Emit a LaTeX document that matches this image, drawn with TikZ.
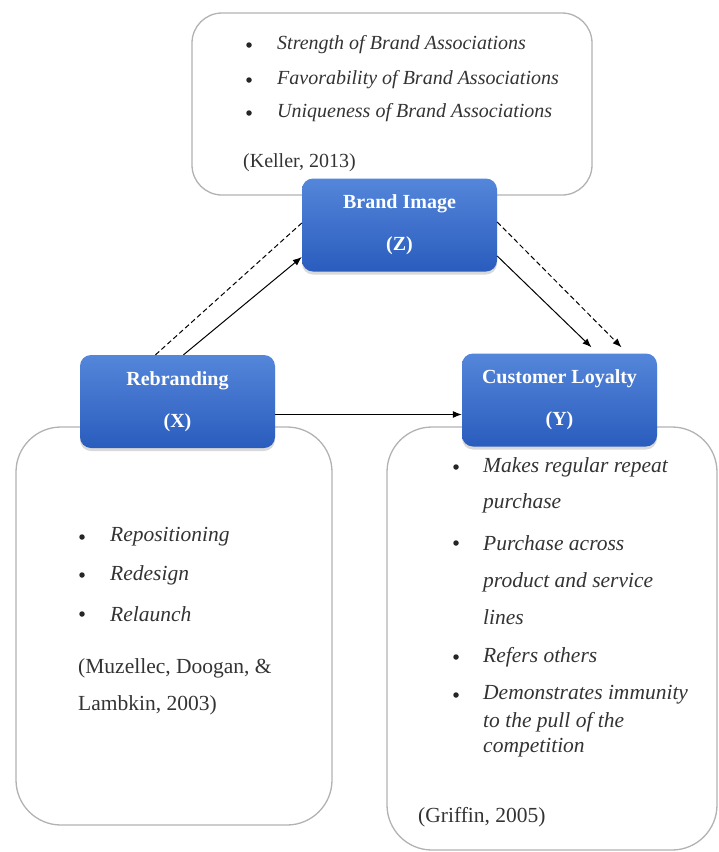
\documentclass[tikz,border=0pt]{standalone}
\usepackage{fontspec}
\setmainfont{Liberation Serif}
\usepackage{xcolor}
\usetikzlibrary{arrows.meta,shadows}
\definecolor{boxtop}{RGB}{84,134,218}
\definecolor{boxbot}{RGB}{42,92,190}

\begin{document}
\begin{tikzpicture}[x=1pt,y=-1pt,
  frame/.style={draw=gray!60,line width=1.3pt},
  varbox/.style={rounded corners=11pt,minimum width=195pt,minimum height=93pt,
    top color=boxtop,bottom color=boxbot,text=white,align=center,
    font=\fontsize{20}{42}\selectfont\bfseries,
    drop shadow={opacity=0.3,shadow xshift=0pt,shadow yshift=-3pt}},
  dot/.style={circle,fill=black!85,inner sep=0pt,minimum size=5.5pt},
  item/.style={anchor=west,inner sep=0pt,font=\fontsize{#1}{24}\selectfont\itshape,text=black!80},
  item/.default=20,
  cite/.style={anchor=west,inner sep=0pt,font=\fontsize{#1}{24}\selectfont,text=black!80},
  cite/.default=20,
  link/.style={line width=1pt,-{Latex[length=9pt,width=7pt]}},
  ]
  \useasboundingbox (0,0) rectangle (719,852);
  % frames behind the three variables
  \draw[frame,rounded corners=30pt] (192,13) rectangle (592,195);
  \draw[frame,rounded corners=45pt] (16,427) rectangle (332,825);
  \draw[frame,rounded corners=45pt] (387,427) rectangle (717,850);

  % brand image dimensions
  \node[dot] (k1) at (249,45) {};
  \node[item] (kt1) at (277,45) {Strength of Brand Associations};
  \node[dot] (k2) at (249,80) {};
  \node[item] (kt2) at (277,80) {Favorability of Brand Associations};
  \node[dot] (k3) at (249,113) {};
  \node[item] (kt3) at (277,113) {Uniqueness of Brand Associations};
  \node[cite] (keller) at (243,163) {(Keller, 2013)};

  % rebranding dimensions
  \node[dot] (m1) at (82,537) {};
  \node[item=21.5] (mt1) at (110,537) {Repositioning};
  \node[dot] (m2) at (82,575) {};
  \node[item=21.5] (mt2) at (110,575) {Redesign};
  \node[dot] (m3) at (82,614) {};
  \node[item=21.5] (mt3) at (110,614) {Relaunch};
  \node[cite=21.5] (muz1) at (78,668) {(Muzellec, Doogan, \&};
  \node[cite=21.5] (muz2) at (78,705) {Lambkin, 2003)};

  % loyalty dimensions
  \node[dot] (g1) at (456,467) {};
  \node[item=21.5] (gt1) at (483,467) {Makes regular repeat};
  \node[item=21.5] (gt1b) at (483,503) {purchase};
  \node[dot] (g2) at (456,543) {};
  \node[item=21.5] (gt2) at (483,543) {Purchase across};
  \node[item=21.5] (gt2b) at (483,582) {product and service};
  \node[item=21.5] (gt2c) at (483,617) {lines};
  \node[dot] (g3) at (456,657) {};
  \node[item=21.5] (gt3) at (483,657) {Refers others};
  \node[dot] (g4) at (456,695) {};
  \node[item=21.5] (gt4) at (483,695) {Demonstrates immunity};
  \node[item=21.5] (gt4b) at (483,722) {to the pull of the};
  \node[item=21.5] (gt4c) at (483,748) {competition};
  \node[cite=21.5] (griffin) at (418,817) {(Griffin, 2005)};

  % variables
  \node[varbox] (bi) at (399.5,225) {Brand Image\\(Z)};
  \node[varbox] (rb) at (177.5,401.5) {Rebranding\\(X)};
  \node[varbox] (cl) at (559.5,400) {Customer Loyalty\\(Y)};

  \draw[line width=1pt,dash pattern=on 5pt off 3pt] ([xshift=-22pt]rb.north) -- ([yshift=2pt]bi.west);
  \draw[link] ([xshift=6pt]rb.north) -- ([yshift=-32pt]bi.west);
  \draw[link] ([yshift=-31pt]bi.east) -- ([xshift=32pt,yshift=6pt]cl.north);
  \draw[link,dash pattern=on 5pt off 3pt] ([yshift=3pt]bi.east) -- ([xshift=62pt,yshift=6pt]cl.north);
  \draw[link] ([yshift=-13pt]rb.east) -- ([yshift=-14.5pt]cl.west);
\end{tikzpicture}
\end{document}
